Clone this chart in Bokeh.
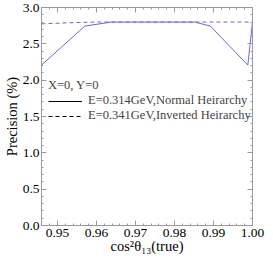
from bokeh.plotting import figure
from bokeh.models import (Range1d, LinearAxis, SingleIntervalTicker, Legend, LegendItem,
                          ColumnDataSource, NumeralTickFormatter, CustomJSTickFormatter)
from bokeh.embed import file_html
from bokeh.resources import INLINE

# data
cos2_nh = [0.9459, 0.9570, 0.9639, 0.9852, 0.9892, 0.9988, 1.0]
prec_nh = [2.207, 2.744, 2.80, 2.80, 2.744, 2.207, 2.80]
cos2_ih = [0.9459, 0.9530, 0.9600, 1.0]
prec_ih = [2.775, 2.79, 2.80, 2.80]
x_min, x_max = 0.9459, 1.0
y_min, y_max = 0.0, 3.0
legend_title = "X=0, Y=0"
label_nh = "E=0.314GeV,Normal Heirarchy"
label_ih = "E=0.341GeV,Inverted Heirarchy"

FONT = "Liberation Serif"
AXC = "#9a9a9a"
LINEC = "#6b6bcc"

p = figure(width=265, height=263, output_backend="svg", toolbar_location=None,
           x_range=Range1d(x_min, x_max), y_range=Range1d(y_min, y_max),
           min_border_left=32, min_border_right=13, min_border_top=7, min_border_bottom=38,
           x_axis_label="cos²θ₁₃(true)", y_axis_label="Precision (%)")
p.grid.visible = False
p.outline_line_color = AXC
p.background_fill_color = "white"
p.border_fill_color = "white"

xt = SingleIntervalTicker(interval=0.01, num_minor_ticks=5)
yt = SingleIntervalTicker(interval=0.5, num_minor_ticks=5)
p.xaxis.ticker = xt
p.yaxis.ticker = yt
p.xaxis.formatter = NumeralTickFormatter(format="0.00")
p.yaxis.formatter = NumeralTickFormatter(format="0.0")

for ax in [p.xaxis[0], p.yaxis[0]]:
    ax.axis_line_color = AXC
    ax.major_tick_line_color = AXC
    ax.minor_tick_line_color = AXC
    ax.major_tick_in = 5
    ax.major_tick_out = 0
    ax.minor_tick_in = 2
    ax.minor_tick_out = 0
    ax.major_label_text_font = FONT
    ax.major_label_text_font_size = "13.5px"
    ax.major_label_text_color = "black"
    ax.axis_label_text_font = FONT
    ax.axis_label_text_font_size = "14.5px"
    ax.axis_label_text_font_style = "normal"
    ax.axis_label_text_color = "black"

p.yaxis.major_label_standoff = 2
p.yaxis.axis_label_standoff = 0
p.xaxis.major_label_standoff = 3
p.xaxis.axis_label_standoff = -2

blank = CustomJSTickFormatter(code="return ''")
for loc, tk in [("above", xt), ("right", yt)]:
    ax = LinearAxis(ticker=tk, formatter=blank)
    ax.axis_line_color = AXC
    ax.major_tick_line_color = AXC
    ax.minor_tick_line_color = AXC
    ax.major_tick_in = 5
    ax.major_tick_out = 0
    ax.minor_tick_in = 2
    ax.minor_tick_out = 0
    ax.major_label_text_font_size = "1px"
    ax.major_label_standoff = 0
    p.add_layout(ax, loc)

p.line(cos2_nh, prec_nh, line_color=LINEC, line_width=1)
p.line(cos2_ih, prec_ih, line_color=LINEC, line_width=1, line_dash="4 3")

# legend proxies (black samples, nothing drawn in the plot)
nan = float("nan")
proxy = ColumnDataSource(data=dict(x=[nan], y=[nan]))
r1 = p.line("x", "y", source=proxy, line_color="black", line_width=1)
r2 = p.line("x", "y", source=proxy, line_color="black", line_width=1, line_dash="4 3")

legend = Legend(items=[LegendItem(label=label_nh, renderers=[r1]),
                       LegendItem(label=label_ih, renderers=[r2])],
                location=(7, 102), title=legend_title,
                title_text_font=FONT, title_text_font_size="12.5px",
                title_text_font_style="normal", title_standoff=-6,
                label_text_font=FONT, label_text_font_size="12.5px",
                label_height=10, glyph_height=10, glyph_width=34,
                label_standoff=6, spacing=-8, padding=0, margin=0,
                background_fill_alpha=0, border_line_alpha=0)
p.add_layout(legend, "center")

open("out.html", "w").write(file_html(p, INLINE))
